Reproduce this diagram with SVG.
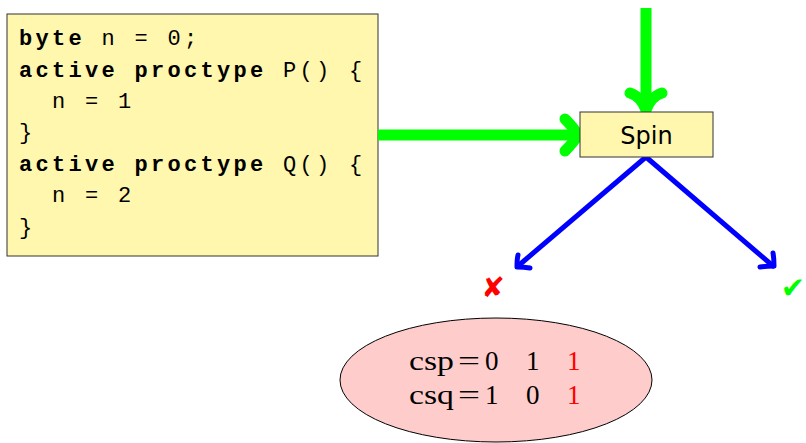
<svg xmlns="http://www.w3.org/2000/svg" width="806" height="443" viewBox="0 0 806 443">
<style>
.code{font-family:"Liberation Mono","DejaVu Sans Mono",monospace;font-size:22px;letter-spacing:3.3px;fill:#000;white-space:pre}
.kw{font-weight:bold}
.green{fill:none;stroke:#00ff00;stroke-width:11;stroke-linecap:round;stroke-linejoin:round}
.shaft{stroke-linecap:butt}
.blue{fill:none;stroke:#0000ff;stroke-width:5;stroke-linecap:round;stroke-linejoin:round}
.math{font-family:"Liberation Serif","DejaVu Serif",serif;font-size:27px;fill:#000}
.red{fill:#ff0000}
</style>
<rect width="806" height="443" fill="#fff"/>
<g id="code">
<rect x="7" y="14" width="371" height="242" fill="#fff7ae" stroke="#333" stroke-width="1"/>
<text class="code" x="19" y="45"><tspan class="kw">byte</tspan> n = 0;</text>
<text class="code" x="19" y="77"><tspan class="kw">active proctype</tspan> P() {</text>
<text class="code" x="52" y="108">n = 1</text>
<text class="code" x="19" y="139">}</text>
<text class="code" x="19" y="171"><tspan class="kw">active proctype</tspan> Q() {</text>
<text class="code" x="52" y="202">n = 2</text>
<text class="code" x="19" y="234">}</text>
</g>
<g id="connectors">
<path class="green shaft" d="M 378 135 L 575 135"/>
<path class="green" d="M 565 119 C 570 124 575 130 578 135 C 575 140 570 146 565 151"/>
<path class="green shaft" d="M 646 8 L 646 106"/>
<path class="green" d="M 630 93 C 637 95 643 102 646 110 C 649 102 655 95 662 93"/>
<path class="blue" d="M 646 157 L 518 266"/>
<path class="blue" d="M 530 268 C 524 267 520 267 517 267 C 517 263 517 259 518 255"/>
<path class="blue" d="M 646 157 L 773 266"/>
<path class="blue" d="M 760 267 C 766 266 770 266 774 266 C 774 262 774 258 773 253"/>
</g>
<g id="spin">
<rect x="580" y="112" width="133" height="45" fill="#fff7ae" stroke="#333" stroke-width="1"/>
<text x="646.5" y="144" text-anchor="middle" font-family="'DejaVu Sans','Open Sans',sans-serif" font-size="24" fill="#000">Spin</text>
</g>
<g id="fail">
<text x="493" y="297" text-anchor="middle" font-family="'DejaVu Sans',sans-serif" font-size="28" fill="#ff0000">✘</text>
</g>
<g id="ok">
<text x="793" y="298" text-anchor="middle" font-family="'DejaVu Sans',sans-serif" font-size="29" fill="#00ff00">✔</text>
</g>
<g id="state">
<ellipse cx="496" cy="380" rx="156" ry="62" fill="#ffcccc" stroke="#000" stroke-width="1"/>
<text class="math" x="409" y="370" textLength="45" lengthAdjust="spacingAndGlyphs">csp</text>
<text class="math" x="458" y="370" textLength="22" lengthAdjust="spacingAndGlyphs">=</text>
<text class="math" x="485" y="370">0</text>
<text class="math" x="526" y="370">1</text>
<text class="math red" x="567" y="370">1</text>
<text class="math" x="409" y="404" textLength="45" lengthAdjust="spacingAndGlyphs">csq</text>
<text class="math" x="458" y="404" textLength="22" lengthAdjust="spacingAndGlyphs">=</text>
<text class="math" x="485" y="404">1</text>
<text class="math" x="526" y="404">0</text>
<text class="math red" x="567" y="404">1</text>
</g>
</svg>
